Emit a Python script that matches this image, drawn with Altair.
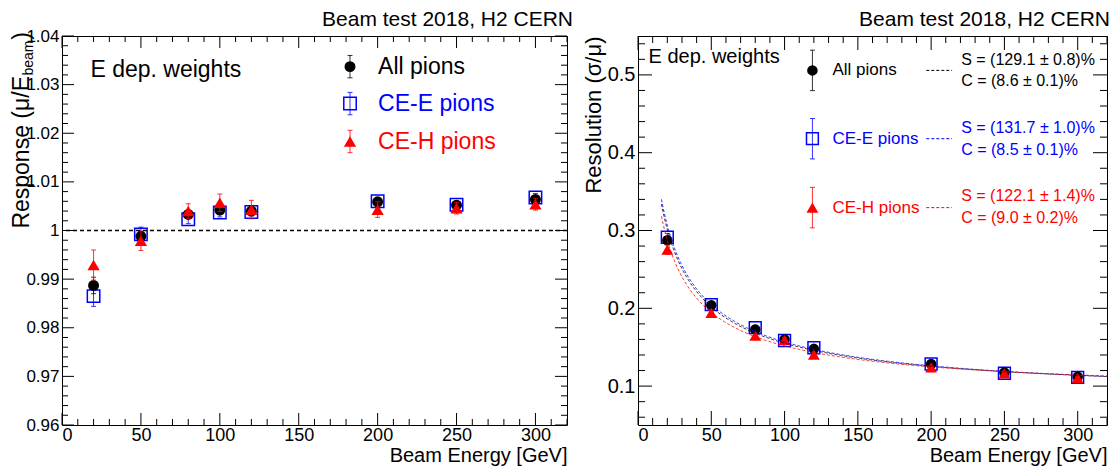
import altair as alt
import numpy as np
import pandas as pd

FONT = "Liberation Sans"
TITLE = "Beam test 2018, H2 CERN"

# ---------------- data ----------------
ENERGY = [20, 50, 80, 100, 120, 200, 250, 300]
SERIES = ["All pions", "CE-E pions", "CE-H pions"]
COLORS = ["#000000", "#0000ff", "#ff0000"]
SHAPES = ["circle", "square", "triangle-up"]
FILLED = [True, False, True]

RESP_ALL = [0.9887, 0.9988, 1.0033, 1.0042, 1.0040, 1.0059, 1.0052, 1.0064]
RESP_CEE = [0.9865, 0.9992, 1.0023, 1.0037, 1.0038, 1.0060, 1.0053, 1.0068]
RESP_CEH = [0.9929, 0.9979, 1.0040, 1.0057, 1.0043, 1.0043, 1.0046, 1.0054]
RESP_ALL_ERR = [0.0017, 0.0010, 0.0008, 0.0008, 0.0007, 0.0007, 0.0007, 0.0007]
RESP_CEE_ERR = [0.0021, 0.0015, 0.0009, 0.0009, 0.0008, 0.0008, 0.0008, 0.0008]
RESP_CEH_ERR = [0.0031, 0.0020, 0.0015, 0.0018, 0.0019, 0.0016, 0.0012, 0.0012]

RES_ALL = [0.2874, 0.2040, 0.1729, 0.1600, 0.1479, 0.1284, 0.1175, 0.1120]
RES_CEE = [0.2913, 0.2047, 0.1751, 0.1586, 0.1493, 0.1284, 0.1165, 0.1113]
RES_CEH = [0.2754, 0.1940, 0.1650, 0.1595, 0.1405, 0.1240, 0.1162, 0.1102]
RES_ALL_ERR = [0.004, 0.003, 0.002, 0.002, 0.002, 0.002, 0.002, 0.002]
RES_CEE_ERR = [0.005, 0.003, 0.003, 0.002, 0.002, 0.002, 0.002, 0.002]
RES_CEH_ERR = [0.006, 0.004, 0.003, 0.003, 0.003, 0.002, 0.002, 0.002]

# stochastic (S) and constant (C) terms of the resolution fits, in %
FIT_S = [129.1, 131.7, 122.1]
FIT_S_ERR = [0.8, 1.0, 1.4]
FIT_C = [8.6, 8.5, 9.0]
FIT_C_ERR = [0.1, 0.1, 0.2]
FIT_RANGE = [16, 320]

REFERENCE_RESPONSE = 1.0

# axes
X_DOMAIN = [0, 320]
RESP_DOMAIN = [0.96, 1.04]
RES_DOMAIN = [0.05, 0.55]
X_MAJOR = [0, 50, 100, 150, 200, 250, 300]
X_MINOR = [v for v in range(0, 321, 10) if v % 50]
RESP_MAJOR = [0.96, 0.97, 0.98, 0.99, 1.0, 1.01, 1.02, 1.03, 1.04]
RESP_MINOR = [round(0.96 + 0.002 * i, 3) for i in range(41) if i % 5]
RES_MAJOR = [0.1, 0.2, 0.3, 0.4, 0.5]
RES_MINOR = [round(0.02 * i, 2) for i in range(3, 28) if i % 5]

# annotation / legend anchors (data coordinates)
LEFT_TAG = (18, 1.0331)
RIGHT_TAG = (7.2, 0.5230)
LEFT_LEG_X = (182.5, 200.3)
LEFT_LEG_Y = [1.0337, 1.0261, 1.0183]
LEFT_LEG_ERR = 0.0023
RIGHT_LEG_X = (119, 132.7, 196.7, 214.3, 220.5)
RIGHT_LEG_Y = [0.5058, 0.4180, 0.3294]
RIGHT_LEG_S_Y = [0.5188, 0.4319, 0.3445]
RIGHT_LEG_C_Y = [0.4916, 0.4038, 0.3156]
RIGHT_LEG_ERR = 0.026

ORDER = [1, 0, 2]  # drawing order: squares, circles, triangles

W1, W2, H = 505, 469, 389
GAP = 71


def make_x_axis():
    return alt.Axis(values=X_MAJOR, ticks=False, tickSize=0, domain=False, grid=False,
                    labelFont=FONT, labelFontSize=18, labelColor="black", labelPadding=1,
                    title="Beam Energy [GeV]", titleFont=FONT, titleFontSize=20,
                    titleFontWeight="normal", titleColor="black", titleAnchor="end",
                    titlePadding=1)


class Panel:
    def __init__(self, xs, ys, xaxis, yaxis):
        self.xs, self.ys, self.xaxis, self.yaxis = xs, ys, xaxis, yaxis

    def X(self, f):
        return alt.X(f, scale=self.xs, axis=self.xaxis)

    def Y(self, f):
        return alt.Y(f, scale=self.ys, axis=self.yaxis)


def tick_layers(p, W, Hh, xmaj, xmin, ymaj, ymin, lmaj, lmin):
    layers = []
    for vals, L in ((xmaj, lmaj), (xmin, lmin)):
        base = alt.Chart(pd.DataFrame({"v": vals})).mark_rule(color="black", strokeWidth=1)
        layers.append(base.encode(x=p.X("v:Q"), y=alt.value(Hh), y2=alt.value(Hh - L)))
        layers.append(base.encode(x=p.X("v:Q"), y=alt.value(0), y2=alt.value(L)))
    for vals, L in ((ymaj, lmaj), (ymin, lmin)):
        base = alt.Chart(pd.DataFrame({"v": vals})).mark_rule(color="black", strokeWidth=1)
        layers.append(base.encode(y=p.Y("v:Q"), x=alt.value(0), x2=alt.value(L)))
        layers.append(base.encode(y=p.Y("v:Q"), x=alt.value(W), x2=alt.value(W - L)))
    return layers


def marker(p, df, i, xf, yf, size):
    return alt.Chart(df).mark_point(
        shape=SHAPES[i], filled=FILLED[i], color=COLORS[i], size=size,
        strokeWidth=1.5 if not FILLED[i] else 1, opacity=1,
    ).encode(x=p.X(xf), y=p.Y(yf))


def errbar(p, df, i, xf, lo, hi, cap=5):
    c = COLORS[i]
    r = alt.Chart(df).mark_rule(color=c, strokeWidth=1, opacity=0.8).encode(
        x=p.X(xf), y=p.Y(lo), y2=hi)
    t1 = alt.Chart(df).mark_tick(color=c, orient="horizontal", size=cap, thickness=1, opacity=0.8).encode(
        x=p.X(xf), y=p.Y(lo))
    t2 = alt.Chart(df).mark_tick(color=c, orient="horizontal", size=cap, thickness=1, opacity=0.8).encode(
        x=p.X(xf), y=p.Y(hi))
    return [r, t1, t2]


def series_layers(p, values, errs, size_map):
    layers = []
    for i in ORDER:
        df = pd.DataFrame({
            "E": ENERGY, "v": values[i],
            "lo": [v - e for v, e in zip(values[i], errs[i])],
            "hi": [v + e for v, e in zip(values[i], errs[i])],
        })
        layers += errbar(p, df, i, "E:Q", "lo:Q", "hi:Q")
        layers.append(marker(p, df, i, "E:Q", "v:Q", size_map[i]))
    return layers


def legend_layers(p, xm, xl, ys_list, err, fs, size_map):
    layers = []
    for i in range(3):
        df = pd.DataFrame({"x": [xm], "xl": [xl], "y": [ys_list[i]],
                           "lo": [ys_list[i] - err], "hi": [ys_list[i] + err],
                           "label": [SERIES[i]]})
        layers += errbar(p, df, i, "x:Q", "lo:Q", "hi:Q", cap=5)
        layers.append(marker(p, df, i, "x:Q", "y:Q", size_map[i]))
        layers.append(alt.Chart(df).mark_text(
            align="left", baseline="middle", font=FONT, fontSize=fs, color=COLORS[i]
        ).encode(x=p.X("xl:Q"), y=p.Y("y:Q"), text="label:N"))
    return layers


def text_layer(p, df, fs, color="black"):
    return alt.Chart(df).mark_text(align="left", baseline="middle", font=FONT, fontSize=fs, color=color).encode(
        x=p.X("x:Q"), y=p.Y("y:Q"), text="t:N")


def title_layer(W, dx):
    return alt.Chart(pd.DataFrame({"t": [TITLE]})).mark_text(
        align="right", baseline="alphabetic", font=FONT, fontSize=21, color="black"
    ).encode(x=alt.value(W + dx), y=alt.value(-10), text="t:N")


# ---------------- left panel: response ----------------
p1 = Panel(
    alt.Scale(domain=X_DOMAIN, nice=False, zero=False),
    alt.Scale(domain=RESP_DOMAIN, nice=False, zero=False),
    make_x_axis(),
    alt.Axis(values=RESP_MAJOR, format=".2~f", ticks=False, tickSize=0, domain=False, grid=False,
             labelFont=FONT, labelFontSize=17, labelColor="black", labelPadding=3, title=None),
)
size_left = [120, 155, 150]

left_layers = series_layers(p1, [RESP_ALL, RESP_CEE, RESP_CEH],
                            [RESP_ALL_ERR, RESP_CEE_ERR, RESP_CEH_ERR], size_left)
left_layers.append(
    alt.Chart(pd.DataFrame({"r": [REFERENCE_RESPONSE]})).mark_rule(
        color="black", strokeWidth=1.5, strokeDash=[4, 3]
    ).encode(y=p1.Y("r:Q"))
)
left_layers += tick_layers(p1, W1, H, X_MAJOR, X_MINOR, RESP_MAJOR, RESP_MINOR, 12, 6)
left_layers.append(text_layer(p1, pd.DataFrame({"x": [LEFT_TAG[0]], "y": [LEFT_TAG[1]], "t": ["E dep. weights"]}), 23))
left_layers += legend_layers(p1, LEFT_LEG_X[0], LEFT_LEG_X[1], LEFT_LEG_Y, LEFT_LEG_ERR, 23, size_left)

# y title with subscript (reads bottom to top, ends at the top of the frame)
left_layers.append(alt.Chart(pd.DataFrame({"t": [")"]})).mark_text(
    angle=270, align="right", baseline="alphabetic", font=FONT, fontSize=23, color="black"
).encode(x=alt.value(-33), y=alt.value(-4), text="t:N"))
left_layers.append(alt.Chart(pd.DataFrame({"t": ["beam"]})).mark_text(
    angle=270, align="right", baseline="alphabetic", font=FONT, fontSize=14, color="black"
).encode(x=alt.value(-29), y=alt.value(4.5), text="t:N"))
left_layers.append(alt.Chart(pd.DataFrame({"t": ["Response (μ/E"]})).mark_text(
    angle=270, align="right", baseline="alphabetic", font=FONT, fontSize=23, color="black"
).encode(x=alt.value(-33), y=alt.value(40), text="t:N"))
left_layers.append(title_layer(W1, 6))

left = alt.layer(*left_layers).properties(width=W1, height=H)

# ---------------- right panel: resolution ----------------
p2 = Panel(
    alt.Scale(domain=X_DOMAIN, nice=False, zero=False),
    alt.Scale(domain=RES_DOMAIN, nice=False, zero=False),
    make_x_axis(),
    alt.Axis(values=RES_MAJOR, format=".1f", ticks=False, tickSize=0, domain=False, grid=False,
             labelFont=FONT, labelFontSize=20, labelColor="black", labelPadding=3,
             title="Resolution (σ/μ)", titleFont=FONT, titleFontSize=22, titleFontWeight="normal",
             titleColor="black", titleAnchor="end", titlePadding=2),
)
size_right = [110, 140, 140]

curve_rows = []
e_grid = np.arange(FIT_RANGE[0], FIT_RANGE[1] + 0.5, 1.0)
for i in range(3):
    s, c = FIT_S[i] / 100.0, FIT_C[i] / 100.0
    for e in e_grid:
        curve_rows.append({"series": SERIES[i], "E": e, "res": float(np.sqrt(s * s / e + c * c))})
curves = pd.DataFrame(curve_rows)

right_layers = series_layers(p2, [RES_ALL, RES_CEE, RES_CEH],
                             [RES_ALL_ERR, RES_CEE_ERR, RES_CEH_ERR], size_right)
for i in range(3):
    right_layers.append(alt.Chart(curves[curves.series == SERIES[i]]).mark_line(
        color=COLORS[i], strokeWidth=1, strokeDash=[3, 2], clip=True, opacity=0.8
    ).encode(x=p2.X("E:Q"), y=p2.Y("res:Q")))
right_layers += tick_layers(p2, W2, H, X_MAJOR, X_MINOR, RES_MAJOR, RES_MINOR, 14, 7)
right_layers.append(text_layer(p2, pd.DataFrame({"x": [RIGHT_TAG[0]], "y": [RIGHT_TAG[1]], "t": ["E dep. weights"]}), 20))
right_layers += legend_layers(p2, RIGHT_LEG_X[0], RIGHT_LEG_X[1], RIGHT_LEG_Y, RIGHT_LEG_ERR, 17, size_right)
for i in range(3):
    dash_df = pd.DataFrame({"x": [RIGHT_LEG_X[2]], "x2": [RIGHT_LEG_X[3]], "y": [RIGHT_LEG_Y[i]]})
    right_layers.append(alt.Chart(dash_df).mark_rule(color=COLORS[i], strokeWidth=1, strokeDash=[3, 2]).encode(
        x=p2.X("x:Q"), x2="x2:Q", y=p2.Y("y:Q")))
    sc_df = pd.DataFrame({
        "x": [RIGHT_LEG_X[4], RIGHT_LEG_X[4]],
        "y": [RIGHT_LEG_S_Y[i], RIGHT_LEG_C_Y[i]],
        "t": [f"S = ({FIT_S[i]:.1f} ± {FIT_S_ERR[i]:.1f})%", f"C = ({FIT_C[i]:.1f} ± {FIT_C_ERR[i]:.1f})%"],
    })
    right_layers.append(text_layer(p2, sc_df, 16, color=COLORS[i]))
right_layers.append(title_layer(W2, 3))

right = alt.layer(*right_layers).properties(width=W2, height=H)

chart = alt.hconcat(left, right, spacing=GAP, bounds="flush").configure(
    padding={"left": 2, "top": 0, "right": 0, "bottom": 0}, background="white"
).configure_view(stroke="black", strokeWidth=1)

chart.save("out.html", embed_options={"renderer": "svg", "actions": False})
